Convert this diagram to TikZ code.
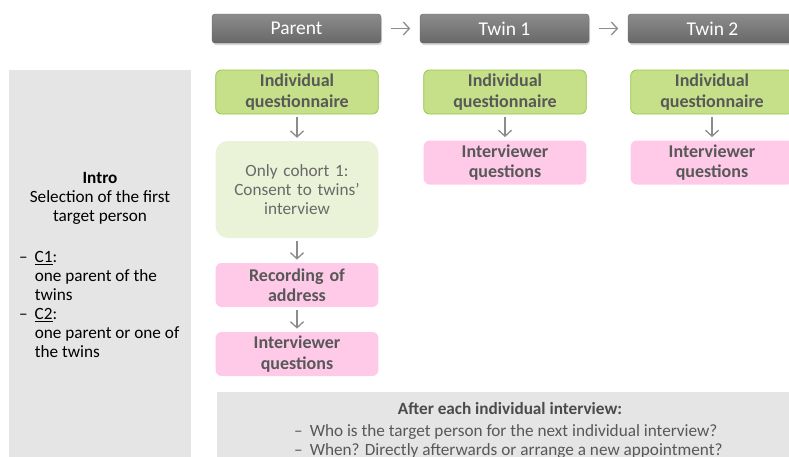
\documentclass[tikz,border=0pt]{standalone}
\usepackage{fontspec}
\setmainfont{Carlito}
\usetikzlibrary{arrows.meta, shadows, positioning}

\definecolor{hdrtop}{RGB}{140,140,140}
\definecolor{hdrbot}{RGB}{104,104,104}
\definecolor{qgreen}{RGB}{197,224,137}
\definecolor{qgreenline}{RGB}{150,200,70}
\definecolor{cgreen}{RGB}{234,242,216}
\definecolor{ipink}{RGB}{255,202,232}
\definecolor{panelgray}{RGB}{229,229,229}
\definecolor{txtgray}{RGB}{88,88,88}
\definecolor{arrgray}{RGB}{140,140,140}

\tikzset{
  hdr/.style={rounded corners=3pt, top color=hdrtop, bottom color=hdrbot,
    draw=hdrbot, minimum width=169pt, minimum height=29pt, text=white,
    font=\fontsize{19.5}{22}\selectfont,
    drop shadow={opacity=0.3, shadow xshift=1pt, shadow yshift=-2pt}},
  qbox/.style={rounded corners=6pt, fill=qgreen, draw=qgreenline, line width=0.8pt,
    minimum width=160pt, minimum height=44pt, text width=156pt, align=center,
    text=txtgray, font=\fontsize{18}{20.5}\selectfont\bfseries},
  ibox/.style={qbox, fill=ipink, draw=none},
  cbox/.style={rounded corners=12pt, fill=cgreen, minimum width=160pt,
    minimum height=97pt, text width=156pt, align=center, text=txtgray!90,
    font=\fontsize{17.2}{19}\selectfont},
  flow/.style={-{Straight Barb[length=6pt,width=13pt]}, arrgray, line width=1.3pt,
    shorten <=3pt, shorten >=3pt}
}

\begin{document}
\begin{tikzpicture}[x=1pt,y=-1pt]
\useasboundingbox (0,0) rectangle (789,456);
\clip (0,0) rectangle (789,456);

% side and bottom panels
\fill[panelgray] (9,70) rectangle (191,470);
\fill[panelgray] (217,392) rectangle (800,470);

% headers
\node[hdr] (P) at (296.5,28.5) {Parent};
\node[hdr] (T1) at (504.5,28.5) {Twin 1};
\node[hdr] (T2) at (712.5,28.5) {Twin 2};
\draw[flow, shorten <=0pt, shorten >=0pt] (P.east) ++(10pt,0) -- ++(19pt,0);
\draw[flow, shorten <=0pt, shorten >=0pt] (T1.east) ++(10pt,0) -- ++(19pt,0);

% parent column
\node[qbox] (Pq) at (297,92) {Individual\\questionnaire};
\node[cbox] (Pc) at (297,189.5) {Only cohort 1:\\Consent to twins'\\interview};
\node[ibox] (Pr) at (297,285) {Recording of\\address};
\node[ibox] (Pi) at (297,354) {Interviewer\\questions};
\draw[flow] (Pq) -- (Pc);
\draw[flow] (Pc) -- (Pr);
\draw[flow] (Pr) -- (Pi);

% twin 1 column
\node[qbox] (T1q) at (505,92) {Individual\\questionnaire};
\node[ibox] (T1i) at (505,162.5) {Interviewer\\questions};
\draw[flow] (T1q) -- (T1i);

% twin 2 column
\node[qbox] (T2q) at (712,92) {Individual\\questionnaire};
\node[ibox] (T2i) at (712,162.5) {Interviewer\\questions};
\draw[flow] (T2q) -- (T2i);

% intro text
\node[align=center, font=\fontsize{17.2}{19}\selectfont] (intro) at (100,198)
  {\textbf{Intro}\\Selection of the first\\target person};
\node[anchor=north west, inner sep=0pt, font=\fontsize{17.2}{19}\selectfont] (cases) at (19,249)
  {\begin{tabular}{@{}l@{\hspace{7pt}}l@{}}
   -- & \underline{C1}:\\
      & one parent of the\\
      & twins\\
   -- & \underline{C2}:\\
      & one parent or one of\\
      & the twins
   \end{tabular}};

% after each interview
\node[font=\fontsize{17.2}{19}\selectfont\bfseries, text=txtgray!85!black] (after) at (510,409)
  {After each individual interview:};
\node[anchor=north west, inner sep=0pt, text=txtgray, font=\fontsize{17.2}{19}\selectfont] (afterlist) at (294,423)
  {\begin{tabular}{@{}l@{\hspace{7pt}}l@{}}
   -- & Who is the target person for the next individual interview?\\
   -- & When? Directly afterwards or arrange a new appointment?
   \end{tabular}};

\end{tikzpicture}
\end{document}
